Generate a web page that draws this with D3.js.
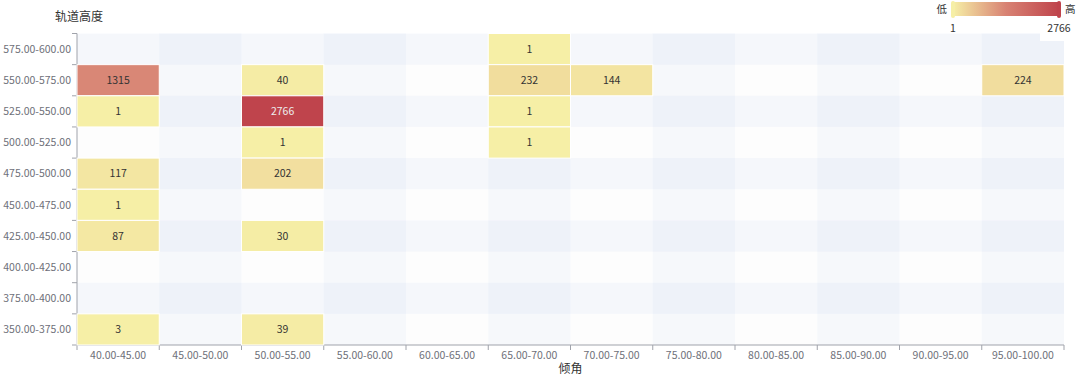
<!DOCTYPE html>
<html>
<head>
<meta charset="utf-8">
<script src="https://cdn.jsdelivr.net/npm/d3@7/dist/d3.min.js"></script>
<style>
  html, body { margin: 0; padding: 0; background: #fff; }
  svg { display: block; font-family: "Noto Sans CJK SC", "Noto Sans", sans-serif; }
</style>
</head>
<body>
<svg id="chart"></svg>
<script>
// Categories
const xCats = ['40.00-45.00', '45.00-50.00', '50.00-55.00', '55.00-60.00', '60.00-65.00', '65.00-70.00',
  '70.00-75.00', '75.00-80.00', '80.00-85.00', '85.00-90.00', '90.00-95.00', '95.00-100.00'];
const yCats = ['350.00-375.00', '375.00-400.00', '400.00-425.00', '425.00-450.00', '450.00-475.00',
  '475.00-500.00', '500.00-525.00', '525.00-550.00', '550.00-575.00', '575.00-600.00'];

// Cells: [x index, y index, count]
const cells = [
  [5, 9, 1],
  [0, 8, 1315], [2, 8, 40], [5, 8, 232], [6, 8, 144], [11, 8, 224],
  [0, 7, 1], [2, 7, 2766], [5, 7, 1],
  [2, 6, 1], [5, 6, 1],
  [0, 5, 117], [2, 5, 202],
  [0, 4, 1],
  [0, 3, 87], [2, 3, 30],
  [0, 0, 3], [2, 0, 39]
];

const rangeMin = 1;
const rangeMax = 2766;
const rampColors = ['#f6efa6', '#d88273', '#bf444c'];

const width = 1080;
const height = 375;
const margin = { top: 33.5, right: 16, bottom: 30, left: 77 };

const svg = d3.select('#chart')
  .attr('width', width)
  .attr('height', height);

const x = d3.scaleBand()
  .domain(xCats)
  .range([margin.left, width - margin.right]);

const y = d3.scaleBand()
  .domain(yCats)
  .range([height - margin.bottom, margin.top]);

const color = d3.scaleLinear()
  .domain([rangeMin, (rangeMin + rangeMax) / 2, rangeMax])
  .range(rampColors);

// Split areas (columns then rows, both semi transparent)
const splitColors = ['rgba(250,250,250,0.2)', 'rgba(210,219,238,0.2)'];
svg.append('g')
  .selectAll('rect')
  .data(xCats)
  .join('rect')
  .attr('x', d => x(d))
  .attr('y', margin.top)
  .attr('width', x.bandwidth())
  .attr('height', height - margin.bottom - margin.top)
  .attr('fill', (d, i) => splitColors[i % 2]);

svg.append('g')
  .selectAll('rect')
  .data(yCats)
  .join('rect')
  .attr('x', margin.left)
  .attr('y', d => y(d))
  .attr('width', width - margin.right - margin.left)
  .attr('height', y.bandwidth())
  .attr('fill', (d, i) => splitColors[i % 2]);

// Axes
const axisColor = '#a0a3ab';
const labelColor = '#6e7079';

const xAxis = svg.append('g')
  .attr('transform', `translate(0,${height - margin.bottom})`);
xAxis.append('line')
  .attr('x1', margin.left).attr('x2', width - margin.right)
  .attr('stroke', axisColor);
xAxis.selectAll('.tick')
  .data(xCats.concat(['end']))
  .join('line')
  .attr('x1', (d, i) => margin.left + i * x.bandwidth())
  .attr('x2', (d, i) => margin.left + i * x.bandwidth())
  .attr('y1', 0).attr('y2', 5)
  .attr('stroke', axisColor);
xAxis.selectAll('text')
  .data(xCats)
  .join('text')
  .attr('x', d => x(d) + x.bandwidth() / 2)
  .attr('y', 14)
  .attr('text-anchor', 'middle')
  .attr('font-size', 10.5)
  .attr('fill', labelColor)
  .text(d => d);

const yAxis = svg.append('g')
  .attr('transform', `translate(${margin.left},0)`);
yAxis.append('line')
  .attr('y1', margin.top).attr('y2', height - margin.bottom)
  .attr('stroke', axisColor);
yAxis.selectAll('.tick')
  .data(yCats.concat(['end']))
  .join('line')
  .attr('y1', (d, i) => height - margin.bottom - i * y.bandwidth())
  .attr('y2', (d, i) => height - margin.bottom - i * y.bandwidth())
  .attr('x1', -5).attr('x2', 0)
  .attr('stroke', axisColor);
yAxis.selectAll('text')
  .data(yCats)
  .join('text')
  .attr('x', -6)
  .attr('y', d => y(d) + y.bandwidth() / 2)
  .attr('dy', '0.35em')
  .attr('text-anchor', 'end')
  .attr('font-size', 10.5)
  .attr('fill', labelColor)
  .text(d => d);

// Axis names
svg.append('text')
  .attr('x', 55).attr('y', 21)
  .attr('font-size', 12)
  .attr('fill', '#333')
  .text('轨道高度');

svg.append('text')
  .attr('x', (margin.left + width - margin.right) / 2)
  .attr('y', 373)
  .attr('text-anchor', 'middle')
  .attr('font-size', 12)
  .attr('fill', '#333')
  .text('倾角');

// Heatmap cells
const cellG = svg.append('g')
  .selectAll('g')
  .data(cells)
  .join('g');

cellG.append('rect')
  .attr('x', d => x(xCats[d[0]]))
  .attr('y', d => y(yCats[d[1]]))
  .attr('width', x.bandwidth())
  .attr('height', y.bandwidth())
  .attr('fill', d => color(d[2]))
  .attr('stroke', '#fff')
  .attr('stroke-width', 1);

cellG.append('text')
  .attr('x', d => x(xCats[d[0]]) + x.bandwidth() / 2)
  .attr('y', d => y(yCats[d[1]]) + y.bandwidth() / 2)
  .attr('dy', '0.35em')
  .attr('text-anchor', 'middle')
  .attr('font-size', 10.5)
  .attr('fill', d => d[2] > rangeMax * 0.7 ? '#eee' : '#333')
  .text(d => d[2]);

// Visual map legend
const defs = svg.append('defs');
const grad = defs.append('linearGradient').attr('id', 'ramp');
rampColors.forEach((c, i) => {
  grad.append('stop')
    .attr('offset', `${i / (rampColors.length - 1) * 100}%`)
    .attr('stop-color', c);
});

const legend = svg.append('g');
const barX0 = 953, barX1 = 1059;
legend.append('rect')
  .attr('x', 1040).attr('y', 19)
  .attr('width', 25).attr('height', 22)
  .attr('fill', '#fff');
legend.append('rect')
  .attr('x', barX0).attr('y', 2)
  .attr('width', barX1 - barX0).attr('height', 14)
  .attr('fill', 'url(#ramp)');
legend.append('rect')
  .attr('x', barX0 - 2).attr('y', 1)
  .attr('width', 4).attr('height', 17)
  .attr('rx', 2)
  .attr('fill', color(rangeMin));
legend.append('rect')
  .attr('x', barX1 - 2).attr('y', 1)
  .attr('width', 4).attr('height', 17)
  .attr('rx', 2)
  .attr('fill', color(rangeMax));
legend.append('text')
  .attr('x', barX0 - 6).attr('y', 9).attr('dy', '0.35em')
  .attr('text-anchor', 'end')
  .attr('font-size', 10.5).attr('fill', '#333')
  .text('低');
legend.append('text')
  .attr('x', barX1 + 6).attr('y', 9).attr('dy', '0.35em')
  .attr('font-size', 10.5).attr('fill', '#333')
  .text('高');
legend.append('text')
  .attr('x', barX0).attr('y', 28).attr('dy', '0.35em')
  .attr('text-anchor', 'middle')
  .attr('font-size', 10.5).attr('fill', '#333')
  .text(rangeMin);
legend.append('text')
  .attr('x', barX1).attr('y', 28).attr('dy', '0.35em')
  .attr('text-anchor', 'middle')
  .attr('font-size', 10.5).attr('fill', '#333')
  .text(rangeMax);
</script>
</body>
</html>
